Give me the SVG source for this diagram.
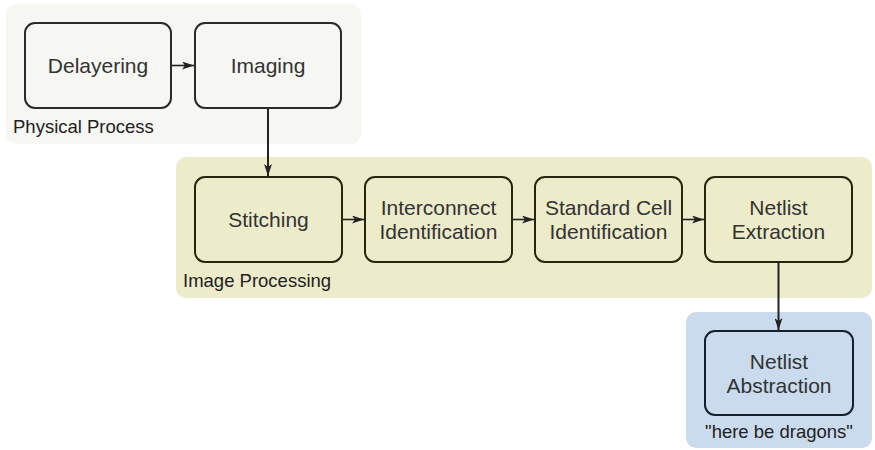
<svg xmlns="http://www.w3.org/2000/svg" width="875" height="450" viewBox="0 0 875 450">
  <defs>
    <marker id="arrow" viewBox="0 0 12 8" refX="12" refY="4" markerWidth="12" markerHeight="8" markerUnits="userSpaceOnUse" orient="auto">
      <path d="M0,0 L12,4 L0,8 L3,4 Z" fill="#222"/>
    </marker>
    <style>
      .grp-label { font-family: "Liberation Sans", Arial, sans-serif; font-size: 18.5px; fill: #222; }
      .node-text { font-family: "Liberation Sans", Arial, sans-serif; font-size: 21px; fill: #333; text-anchor: middle; }
      .box-phys { fill: #f6f6f2; stroke: #2b2b2b; stroke-width: 2; }
      .box-img { fill: #ecebca; stroke: #26260e; stroke-width: 2; }
      .box-net { fill: #c9dbec; stroke: #15202c; stroke-width: 2; }
      .edge { fill: none; stroke: #222; stroke-width: 2; marker-end: url(#arrow); }
      .edge-h { stroke-width: 1.6; }
    </style>
  </defs>

  <!-- stage backgrounds -->
  <g id="physical-process">
    <rect x="6" y="4" width="355" height="140" rx="10" fill="#f6f6f2"/>
    <text class="grp-label" x="13" y="133">Physical Process</text>
  </g>
  <g id="image-processing">
    <rect x="176" y="157" width="696" height="141" rx="10" fill="#ecebca"/>
    <text class="grp-label" x="183" y="287">Image Processing</text>
  </g>
  <g id="dragons">
    <rect x="686" y="312" width="186" height="136" rx="10" fill="#c9dbec"/>
    <text class="grp-label" x="779" y="438" text-anchor="middle">"here be dragons"</text>
  </g>

  <!-- process steps -->
  <g id="delayering">
    <rect class="box-phys" x="25" y="23" width="146" height="85" rx="10"/>
    <text class="node-text" x="98" y="72.5">Delayering</text>
  </g>
  <g id="imaging">
    <rect class="box-phys" x="195" y="23" width="146" height="85" rx="10"/>
    <text class="node-text" x="268" y="72.5">Imaging</text>
  </g>
  <g id="stitching">
    <rect class="box-img" x="195" y="177" width="147" height="85" rx="10"/>
    <text class="node-text" x="268.5" y="226.5">Stitching</text>
  </g>
  <g id="interconnect">
    <rect class="box-img" x="365" y="177" width="147" height="85" rx="10"/>
    <text class="node-text" x="438.5" y="215">Interconnect</text>
    <text class="node-text" x="438.5" y="239">Identification</text>
  </g>
  <g id="standard-cell">
    <rect class="box-img" x="535" y="177" width="147" height="85" rx="10"/>
    <text class="node-text" x="608.5" y="215">Standard Cell</text>
    <text class="node-text" x="608.5" y="239">Identification</text>
  </g>
  <g id="netlist-extraction">
    <rect class="box-img" x="705" y="177" width="147" height="85" rx="10"/>
    <text class="node-text" x="778.5" y="215">Netlist</text>
    <text class="node-text" x="778.5" y="239">Extraction</text>
  </g>
  <g id="netlist-abstraction">
    <rect class="box-net" x="705" y="331" width="148" height="84" rx="10"/>
    <text class="node-text" x="779" y="369">Netlist</text>
    <text class="node-text" x="779" y="393">Abstraction</text>
  </g>

  <!-- connectors -->
  <g id="edges">
    <line class="edge edge-h" x1="172" y1="65.5" x2="194" y2="65.5"/>
    <line class="edge" x1="268" y1="109" x2="268" y2="176"/>
    <line class="edge edge-h" x1="343" y1="219.5" x2="364" y2="219.5"/>
    <line class="edge edge-h" x1="513" y1="219.5" x2="534" y2="219.5"/>
    <line class="edge edge-h" x1="683" y1="219.5" x2="704" y2="219.5"/>
    <line class="edge" x1="778.5" y1="263" x2="778.5" y2="330"/>
  </g>
</svg>
